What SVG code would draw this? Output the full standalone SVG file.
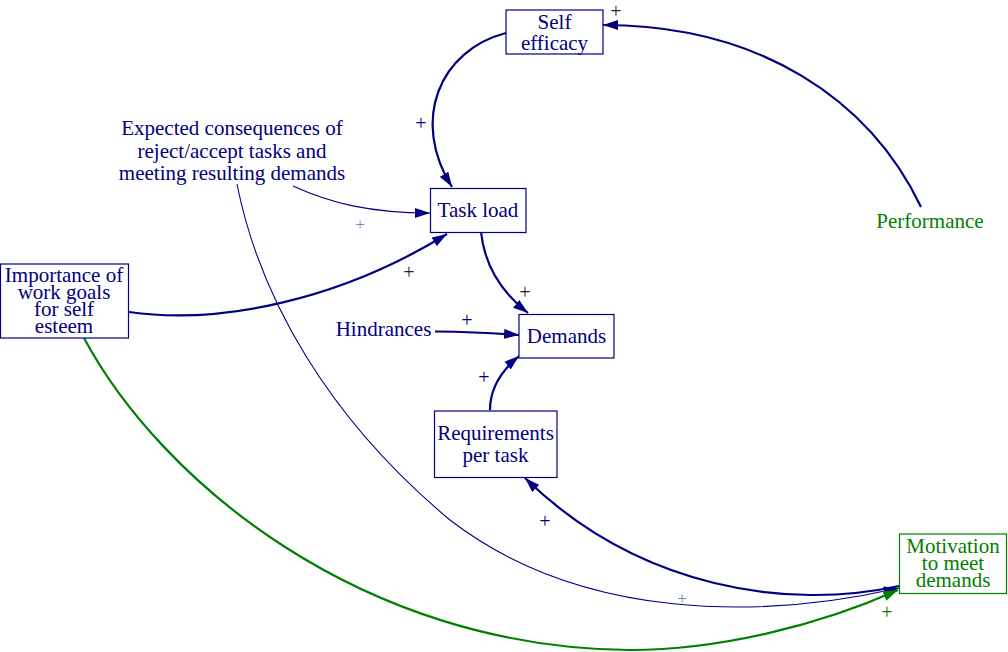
<svg xmlns="http://www.w3.org/2000/svg" width="1008" height="652" viewBox="0 0 1008 652">
  <style>
    text { font-family: "Liberation Serif", "Times New Roman", Tinos, "DejaVu Serif", serif; }
    .box { fill: #ffffff; stroke: #000080; stroke-width: 1.2; }
    .gbox { fill: #ffffff; stroke: #008000; stroke-width: 1.2; }
    .lbl { font-size: 21px; fill: #000080; text-anchor: middle; }
    .glbl { font-size: 21px; fill: #008000; text-anchor: middle; }
    .link { fill: none; stroke: #000080; stroke-width: 2.2; }
    .thin { fill: none; stroke: #000080; stroke-width: 1.1; }
    .glink { fill: none; stroke: #008000; stroke-width: 2.2; }
    .pol { font-size: 20px; text-anchor: middle; }
    .pk { fill: #222222; }
    .pb { fill: #000080; }
    .pl { fill: #6a8ac0; font-size: 17px; }
    .pg { fill: #008000; }
  </style>
  <defs>
    <marker id="arr" markerUnits="userSpaceOnUse" markerWidth="15" markerHeight="10" refX="15" refY="5" orient="auto">
      <path d="M0,0 L15,5 L0,10 z" fill="#000080"/>
    </marker>
    <marker id="arrg" markerUnits="userSpaceOnUse" markerWidth="15" markerHeight="10" refX="15" refY="5" orient="auto">
      <path d="M0,0 L15,5 L0,10 z" fill="#008000"/>
    </marker>
  </defs>

  <g id="connectors">
    <!-- Performance to Self efficacy -->
    <path class="link" marker-end="url(#arr)" d="M921,207 C 870,100 760,25 603,25"/>
    <!-- Self efficacy to Task load -->
    <path class="link" marker-end="url(#arr)" d="M506,33 C 440,50 410,120 452,187"/>
    <!-- Expected consequences to Task load -->
    <path class="thin" marker-end="url(#arr)" d="M293,186 C 330,203 370,213 430,213"/>
    <!-- Importance to Task load -->
    <path class="link" marker-end="url(#arr)" d="M129,312 C 220,325 340,300 447,234"/>
    <!-- Task load to Demands -->
    <path class="link" marker-end="url(#arr)" d="M481,232 C 485,270 505,295 528,313"/>
    <!-- Hindrances to Demands -->
    <path class="link" marker-end="url(#arr)" d="M435,331.5 Q 480,332 519,335"/>
    <!-- Requirements to Demands -->
    <path class="link" marker-end="url(#arr)" d="M490,410 C 490,390 500,372 519,356"/>
    <!-- Motivation to Requirements -->
    <path class="link" marker-end="url(#arr)" d="M899,586 C 790,610 640,590 525,478"/>
    <!-- Expected consequences to Motivation -->
    <path class="thin" marker-end="url(#arr)" d="M237,184 C 260,300 330,420 450,520 C 580,620 760,620 899,588"/>
    <!-- Importance to Motivation -->
    <path class="glink" marker-end="url(#arrg)" d="M84,338 C 160,480 360,648 630,650 C 720,650 820,625 898,590"/>
  </g>

  <g id="polarities">
    <text class="pol pk" x="616" y="18">+</text>
    <text class="pol pb" x="421" y="130">+</text>
    <text class="pol pl" x="360" y="230">+</text>
    <text class="pol pk" x="409" y="279">+</text>
    <text class="pol pk" x="525" y="299">+</text>
    <text class="pol pb" x="467" y="327">+</text>
    <text class="pol pb" x="484" y="384">+</text>
    <text class="pol pb" x="545" y="528">+</text>
    <text class="pol pl" x="682" y="604">+</text>
    <text class="pol pg" x="887" y="619">+</text>
  </g>

  <g id="self-efficacy">
    <rect class="box" x="506" y="10" width="97" height="44"/>
    <text class="lbl" x="554.5" y="29">Self</text>
    <text class="lbl" x="554.5" y="50">efficacy</text>
  </g>

  <g id="performance">
    <text class="glbl" x="930" y="228">Performance</text>
  </g>

  <g id="expected-consequences">
    <text class="lbl" x="232" y="135">Expected consequences of</text>
    <text class="lbl" x="232" y="157.5">reject/accept tasks and</text>
    <text class="lbl" x="232" y="179.5">meeting resulting demands</text>
  </g>

  <g id="task-load">
    <rect class="box" x="430.5" y="188.5" width="95.5" height="44"/>
    <text class="lbl" x="478" y="217">Task load</text>
  </g>

  <g id="importance">
    <rect class="box" x="0.5" y="264" width="128" height="74"/>
    <text class="lbl" x="64" y="282">Importance of</text>
    <text class="lbl" x="64" y="299">work goals</text>
    <text class="lbl" x="64" y="316">for self</text>
    <text class="lbl" x="64" y="333">esteem</text>
  </g>

  <g id="hindrances">
    <text class="lbl" x="383.5" y="336">Hindrances</text>
  </g>

  <g id="demands">
    <rect class="box" x="519" y="314.5" width="95" height="43.5"/>
    <text class="lbl" x="566.5" y="343">Demands</text>
  </g>

  <g id="requirements">
    <rect class="box" x="434.5" y="411" width="122.5" height="66.5"/>
    <text class="lbl" x="495.5" y="440">Requirements</text>
    <text class="lbl" x="495.5" y="462">per task</text>
  </g>

  <g id="motivation">
    <rect class="gbox" x="899.5" y="534" width="107" height="59.5"/>
    <text class="glbl" x="953" y="553">Motivation</text>
    <text class="glbl" x="953" y="570">to meet</text>
    <text class="glbl" x="953" y="587">demands</text>
  </g>
</svg>
